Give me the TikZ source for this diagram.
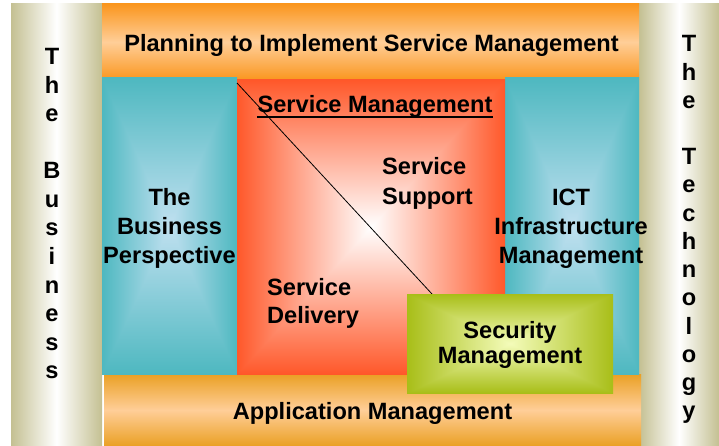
\documentclass[tikz,border=0pt]{standalone}
\usepackage{fontspec}
\setmainfont{Liberation Sans}
\definecolor{olv}{RGB}{196,192,146}
\definecolor{orgA}{RGB}{250,150,30}
\definecolor{peach}{RGB}{255,206,152}
\definecolor{orgB}{RGB}{234,160,36}
\definecolor{tealo}{RGB}{78,184,192}
\definecolor{teali}{RGB}{192,224,240}
\definecolor{redo}{RGB}{255,88,42}
\definecolor{redi}{RGB}{255,255,255}
\definecolor{greeno}{RGB}{168,190,24}
\definecolor{greeni}{RGB}{244,252,186}
\colorlet{rgout}{tealo}
\colorlet{rgin}{teali}
\pgfdeclarefunctionalshading[rgout,rgin]{rectgrad}{\pgfpoint{-50bp}{-50bp}}{\pgfpoint{50bp}{50bp}}{%
  \pgfshadecolortorgb{rgout}{\rgo}%
  \pgfshadecolortorgb{rgin}{\rgi}%
}{%
  abs exch abs 2 copy lt {exch} if pop 25 div dup 1 gt {pop 1} if
  dup \rgored\space \rgired\space sub mul \rgired\space add exch
  dup \rgogreen\space \rgigreen\space sub mul \rgigreen\space add exch
  \rgoblue\space \rgiblue\space sub mul \rgiblue\space add
}
\tikzset{
  sidebar/.style={left color=olv, right color=olv, middle color=white},
  topband/.style={top color=orgA, bottom color=orgA, middle color=peach},
  botband/.style={top color=orgB, bottom color=orgB, middle color=peach},
  lbl/.style={inner sep=0pt, font=\fontsize{23.6}{29}\selectfont\bfseries},
  letter/.style={inner sep=0pt, anchor=base, font=\fontsize{23.6}{28}\selectfont\bfseries},
}
\begin{document}
\begin{tikzpicture}[x=1pt,y=-1pt]
\useasboundingbox (0,0) rectangle (719,446);
\fill[white] (0,0) rectangle (719,446);
% side bars
\shade[sidebar] (11,4) rectangle (102,446);
\shade[sidebar] (639,4) rectangle (719,446);
% bands
\shade[topband] (102,4) rectangle (639,80);
\shade[botband] (104,374) rectangle (641,446);
% cyan boxes
\begin{scope}
\colorlet{rgout}{tealo}\colorlet{rgin}{teali}
\shade[shading=rectgrad] (102,78) rectangle (237,374);
\shade[shading=rectgrad] (505,78) rectangle (639,374);
\end{scope}
% red box
\begin{scope}
\colorlet{rgout}{redo}\colorlet{rgin}{redi}
\shade[shading=rectgrad] (237,80) rectangle (505,374);
\end{scope}
% diagonal
\coordinate (d1) at (237,83);
\coordinate (d2) at (432,294);
\draw[black, line width=0.8pt] (d1) -- (d2);
% green box
\begin{scope}
\colorlet{rgout}{greeno}\colorlet{rgin}{greeni}
\shade[shading=rectgrad] (407,294) rectangle (613,393);
\end{scope}
% texts (multi-line nodes: base = last line)
\node[lbl, anchor=base] (plan) at (371.5,52) {Planning to Implement Service Management};
\node[lbl, anchor=base] (sm) at (375,113) {Service Management};
\draw[line width=1.6pt] ([yshift=-4pt]sm.base west) -- ([yshift=-4pt]sm.base east);
\node[lbl, anchor=base west, align=left, font=\fontsize{23.6}{30}\selectfont\bfseries] (ss) at (382,205) {Service\\Support};
\node[lbl, anchor=base west, align=left, font=\fontsize{23.6}{28}\selectfont\bfseries] (sd) at (267,323) {Service\\Delivery};
\node[lbl, anchor=base, align=center] (bp) at (169.5,263) {The\\Business\\Perspective};
\node[lbl, anchor=base, align=center] (ict) at (571,263) {ICT\\Infrastructure\\Management};
\node[lbl, anchor=base, align=center, font=\fontsize{23.6}{25}\selectfont\bfseries] (sec) at (510,363) {Security\\Management};
\node[lbl, anchor=base] (app) at (372.5,419) {Application Management};
% vertical letters
\foreach \ch/\k in {T/0,h/1,e/2,B/4,u/5,s/6,i/7,n/8,e/9,s/10,s/11}
  \node[letter] (bl\k) at (52,{65+28.5*\k}) {\ch};
\foreach \ch/\k in {T/0,h/1,e/2,T/4,e/5,c/6,h/7,n/8,o/9,l/10,o/11,g/12,y/13}
  \node[letter] (tl\k) at (689,{52+28.2*\k}) {\ch};
\end{tikzpicture}
\end{document}
